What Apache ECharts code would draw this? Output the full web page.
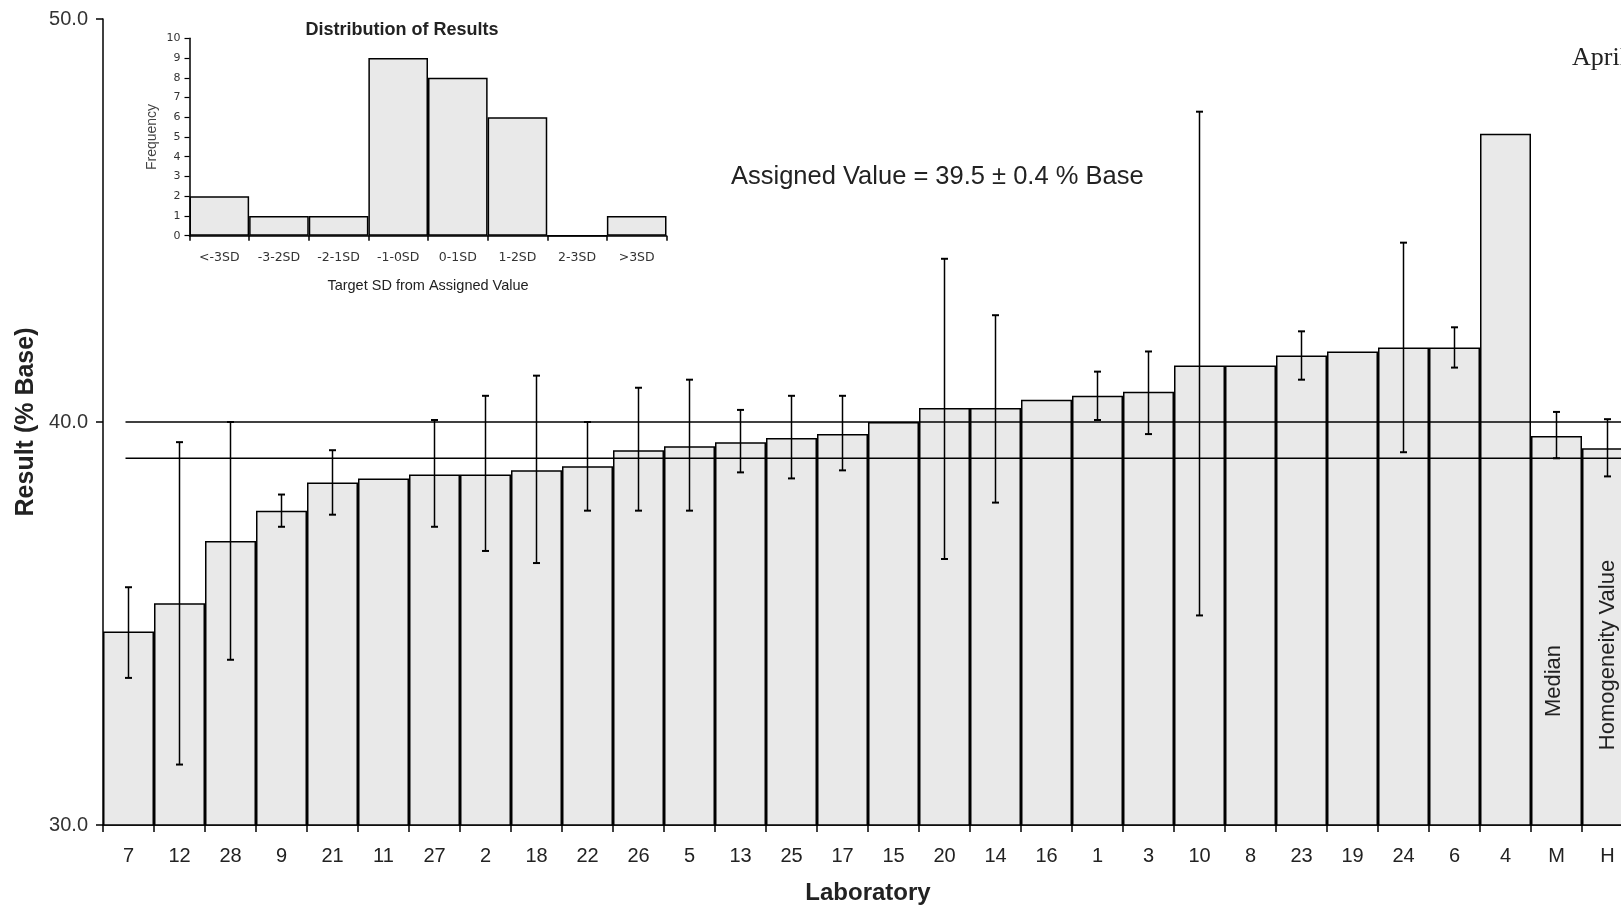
<!DOCTYPE html>
<html><head><meta charset="utf-8">
<script src="https://cdn.jsdelivr.net/npm/echarts@6/dist/echarts.min.js"></script>
<style>html,body{margin:0;padding:0;background:#fff}#c{width:1621px;height:907px}</style>
</head><body><div id="c"></div>
<script>
// ---- data ----
const labs = ['7','12','28','9','21','11','27','2','18','22','26','5','13','25','17','15','20','14','16','1','3','10','8','23','19','24','6','4','M','H'];
const results = [34.8,35.5,37.05,37.8,38.5,38.6,38.7,38.7,38.8,38.9,39.3,39.4,39.5,39.6,39.7,40.0,40.35,40.35,40.55,40.65,40.75,41.4,41.4,41.65,41.75,41.85,41.85,47.15,39.65,39.35];
const errLow  = [33.65,31.5,34.1,37.4,37.7,null,37.4,36.8,36.5,37.8,37.8,37.8,38.75,38.6,38.8,null,36.6,38.0,null,40.05,39.7,35.2,null,41.05,null,39.25,41.35,null,39.1,38.65];
const errHigh = [35.9,39.5,40.0,38.2,39.3,null,40.05,40.65,41.15,40.0,40.85,41.05,40.3,40.65,40.65,null,44.05,42.65,null,41.25,41.75,47.7,null,42.25,null,44.45,42.35,null,40.25,40.07];
const assignedLines = [40.0, 39.1];
const yMin = 30, yMax = 50, yStep = 10;
const histCats = ['<-3SD','-3-2SD','-2-1SD','-1-0SD','0-1SD','1-2SD','2-3SD','>3SD'];
const histFreq = [2,1,1,9,8,6,0,1];
const histMin = 0, histMax = 10, histStep = 1;

// ---- chart ----
const FONT = 'Liberation Sans, Arial, sans-serif';
const chart = echarts.init(document.getElementById('c'), null, {renderer:'canvas'});
const errData = [];
labs.forEach((l,i)=>{ if (errLow[i] != null) errData.push([i, errLow[i], errHigh[i]]); });

const option = {
  backgroundColor:'#fff',
  animation:false,
  grid:[
    {left:103, top:19, width:1530, height:806, outerBoundsMode:'none', containLabel:false},
    {left:189.5, top:38.3, width:477, height:197.4, outerBoundsMode:'none', containLabel:false}
  ],
  xAxis:[
    {type:'category', gridIndex:0, data:labs,
     axisLine:{lineStyle:{color:'#000', width:1.5}},
     axisTick:{show:true, length:7, interval:0, lineStyle:{color:'#000', width:1.5}},
     axisLabel:{interval:0, margin:21, color:'#222', fontSize:20, fontFamily:FONT},
     name:'Laboratory', nameLocation:'middle', nameGap:56,
     nameTextStyle:{fontSize:24, fontWeight:'bold', color:'#222', fontFamily:FONT}},
    {type:'category', gridIndex:1, data:histCats,
     axisLine:{lineStyle:{color:'#000', width:1.5}},
     axisTick:{show:true, length:5, interval:0, lineStyle:{color:'#000', width:1.5}},
     axisLabel:{interval:0, margin:16, color:'#333', fontSize:12.5, fontFamily:'DejaVu Sans'},
     name:'Target SD from Assigned Value', nameLocation:'middle', nameGap:43,
     nameTextStyle:{fontSize:14.5, color:'#222', fontFamily:FONT}}
  ],
  yAxis:[
    {type:'value', gridIndex:0, min:yMin, max:yMax, interval:yStep,
     splitLine:{show:false},
     axisLine:{show:true, lineStyle:{color:'#000', width:1.5}},
     axisTick:{show:true, length:7, lineStyle:{color:'#000', width:1.5}},
     axisLabel:{margin:15, color:'#333', fontSize:20, fontFamily:FONT, formatter:v=>v.toFixed(1)},
     name:'Result (% Base)', nameLocation:'middle', nameRotate:90, nameGap:57,
     nameTextStyle:{fontSize:25, fontWeight:'bold', color:'#222', fontFamily:FONT}},
    {type:'value', gridIndex:1, min:histMin, max:histMax, interval:histStep,
     splitLine:{show:false},
     axisLine:{show:true, lineStyle:{color:'#000', width:1.5}},
     axisTick:{show:true, length:5, lineStyle:{color:'#000', width:1.2}},
     axisLabel:{margin:9, color:'#333', fontSize:11, fontFamily:'DejaVu Sans'},
     name:'Frequency', nameLocation:'middle', nameRotate:90, nameGap:30,
     nameTextStyle:{fontSize:14, color:'#444', fontFamily:FONT}}
  ],
  series:[
    {type:'bar', xAxisIndex:0, yAxisIndex:0, data:results, barCategoryGap:'0%', z:2,
     itemStyle:{color:'#e9e9e9', borderColor:'#000', borderWidth:1.5}},
    {type:'custom', xAxisIndex:0, yAxisIndex:0, z:3,
     data:assignedLines.map(v=>[0,v]),
     renderItem:function(params, api){
       const p = api.coord([0, api.value(1)]);
       const cs = params.coordSys;
       return {type:'line', shape:{x1:p[0]-3, y1:p[1], x2:cs.x+cs.width+40, y2:p[1]},
               style:{stroke:'#000', lineWidth:1.5}};
     }},
    {type:'custom', xAxisIndex:0, yAxisIndex:0, z:4,
     data:errData, encode:{x:0, y:[1,2]},
     renderItem:function(params, api){
       const i = api.value(0);
       const lo = api.coord([i, api.value(1)]);
       const hi = api.coord([i, api.value(2)]);
       const cw = 3.5;
       const st = {stroke:'#000', lineWidth:1.5};
       return {type:'group', children:[
         {type:'line', shape:{x1:lo[0], y1:lo[1], x2:hi[0], y2:hi[1]}, style:st},
         {type:'line', shape:{x1:hi[0]-cw, y1:hi[1], x2:hi[0]+cw, y2:hi[1]}, style:{stroke:'#000', lineWidth:2}},
         {type:'line', shape:{x1:lo[0]-cw, y1:lo[1], x2:lo[0]+cw, y2:lo[1]}, style:{stroke:'#000', lineWidth:2}}
       ]};
     }},
    {type:'bar', xAxisIndex:1, yAxisIndex:1, data:histFreq, barCategoryGap:'0%', z:5,
     itemStyle:{color:'#e9e9e9', borderColor:'#000', borderWidth:1.5}}
  ],
  graphic:[
    {type:'text', x:402, y:30, z:10, style:{text:'Distribution of Results', align:'center', verticalAlign:'middle',
      fontSize:18, fontWeight:'bold', fontFamily:FONT, fill:'#222'}},
    {type:'text', x:731, y:177, z:10, style:{text:'Assigned Value = 39.5 \u00b1 0.4 % Base', align:'left', verticalAlign:'middle',
      fontSize:25.5, fontFamily:FONT, fill:'#222'}},
    {type:'text', x:1554, y:681, rotation:Math.PI/2, z:10, style:{text:'Median', align:'center', verticalAlign:'middle',
      fontSize:22, fontFamily:FONT, fill:'#222'}},
    {type:'text', x:1608, y:655, rotation:Math.PI/2, z:10, style:{text:'Homogeneity Value', align:'center', verticalAlign:'middle',
      fontSize:22, fontFamily:FONT, fill:'#222'}},
    {type:'text', x:1572, y:58, z:10, style:{text:'April', align:'left', verticalAlign:'middle',
      fontSize:26, fontFamily:'Liberation Serif, serif', fill:'#222'}}
  ]
};
chart.setOption(option);
</script></body></html>
